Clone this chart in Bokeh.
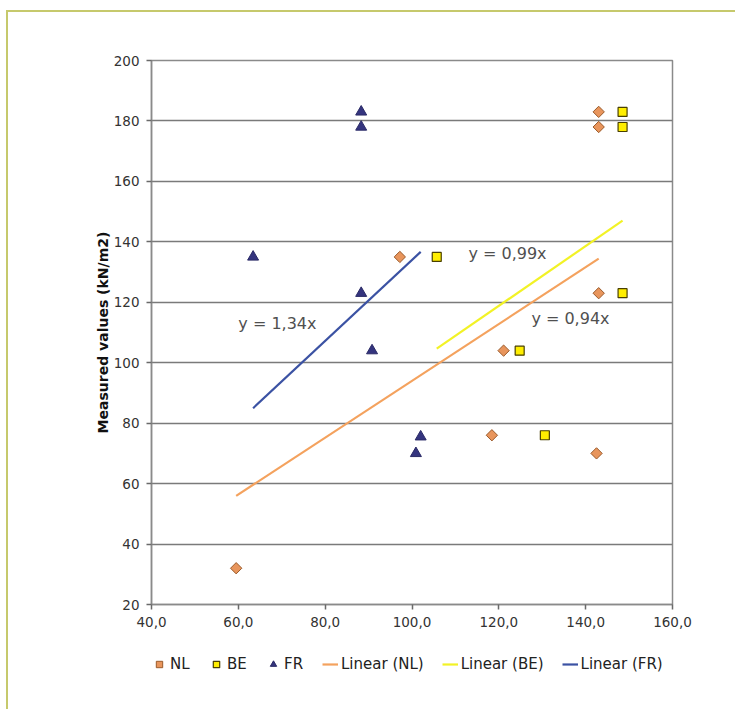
import math
from bokeh.plotting import figure
from bokeh.layouts import column
from bokeh.models import Range1d, FixedTicker, Legend, LegendItem, Label
from bokeh.embed import file_html
from bokeh.resources import INLINE

# ---------------- data ----------------
NL_X = [59.5, 97.2, 118.4, 121.1, 142.5, 143.0, 143.0, 143.0]
NL_Y = [32, 135, 76, 104, 70, 123, 178, 183]
BE_X = [105.7, 124.8, 130.6, 148.5, 148.5, 148.5]
BE_Y = [135, 104, 76, 123, 178, 183]
FR_X = [63.4, 88.3, 88.3, 88.3, 90.8, 100.9, 102.0]
FR_Y = [135, 123, 178, 183, 104, 70, 75.5]

SLOPES = {"NL": 0.94, "BE": 0.99, "FR": 1.34}
EQ_TEXT = {"NL": "y = 0,94x", "BE": "y = 0,99x", "FR": "y = 1,34x"}
EQ_POS = {"NL": (127.5, 114.5), "BE": (113.0, 136.0), "FR": (60.0, 113.0)}

X_TICKS = [40, 60, 80, 100, 120, 140, 160]
X_TICK_LABELS = ["40,0", "60,0", "80,0", "100,0", "120,0", "140,0", "160,0"]
Y_TICKS = [20, 40, 60, 80, 100, 120, 140, 160, 180, 200]

FONT = "DejaVu Sans"

p = figure(width=727, height=626, output_backend="svg", toolbar_location=None,
           x_range=Range1d(40, 160), y_range=Range1d(20, 200),
           min_border_left=143, min_border_right=63,
           min_border_top=48, min_border_bottom=34)
p.background_fill_color = "white"
p.border_fill_color = "white"
p.outline_line_color = "#8a8a8a"
p.outline_line_width = 1.5

# axes
for ax in (p.xaxis[0], p.yaxis[0]):
    ax.axis_line_color = "#8a8a8a"
    ax.axis_line_width = 1.5
    ax.major_tick_line_color = "#6a6a6a"
    ax.major_tick_line_width = 1.5
    ax.major_tick_out = 5
    ax.major_tick_in = 0
    ax.minor_tick_line_color = None
    ax.major_label_text_font = FONT
    ax.major_label_text_font_size = "13.5px"
    ax.major_label_text_color = "#333333"
    ax.major_label_standoff = 7

p.xaxis[0].ticker = FixedTicker(ticks=X_TICKS)
p.xaxis[0].major_label_overrides = {t: l for t, l in zip(X_TICKS, X_TICK_LABELS)}
yax = p.yaxis[0]
yax.ticker = FixedTicker(ticks=Y_TICKS)
yax.axis_label = "Measured values (kN/m2)"
yax.axis_label_text_font = FONT
yax.axis_label_text_font_style = "bold"
yax.axis_label_text_font_size = "14px"
yax.axis_label_text_color = "#111111"
yax.axis_label_standoff = 0

p.xgrid.grid_line_color = None
p.ygrid.ticker = FixedTicker(ticks=Y_TICKS)
p.ygrid.grid_line_color = "#7a7a7a"
p.ygrid.grid_line_width = 1.5

# trend lines (through origin, over each series' x extent)
LINE_COLORS = {"NL": "#f4a25e", "BE": "#f2f226", "FR": "#3b52a3"}
series_x = {"NL": NL_X, "BE": BE_X, "FR": FR_X}
trend = {}
for k in ("NL", "BE", "FR"):
    xs = [min(series_x[k]), max(series_x[k])]
    ys = [SLOPES[k] * v for v in xs]
    trend[k] = (xs, ys)
    p.line(xs, ys, line_color=LINE_COLORS[k], line_width=2.2)

# marker styles
NL_STYLE = dict(marker="square", angle=math.pi / 4, size=8,
                fill_color="#e8955c", line_color="#9a5a2a", line_width=1)
BE_STYLE = dict(marker="square", size=9,
                fill_color="#ffee00", line_color="#4a4000", line_width=1.2)
FR_STYLE = dict(marker="triangle", size=11,
                fill_color="#34347e", line_color="#2a2a66", line_width=1)

p.scatter(NL_X, NL_Y, **NL_STYLE)
p.scatter(BE_X, BE_Y, **BE_STYLE)
p.scatter(FR_X, FR_Y, **FR_STYLE)

# equation labels
for k in ("NL", "BE", "FR"):
    x0, y0 = EQ_POS[k]
    p.add_layout(Label(x=x0, y=y0, text=EQ_TEXT[k], text_font=FONT,
                       text_font_size="16px", text_color="#505050",
                       text_baseline="middle", text_align="left"))

# ---------------- legend strip below the chart ----------------
# same series drawn in a strip whose view range excludes them, so only
# the legend (which samples their styles) is visible
q = figure(width=727, height=71, output_backend="svg", toolbar_location=None,
           x_range=Range1d(0, 1), y_range=Range1d(0, 1),
           x_axis_type=None, y_axis_type=None, min_border=0)
q.outline_line_color = None
q.background_fill_color = "white"
q.border_fill_color = "white"
g_nl = q.scatter(NL_X, NL_Y, **NL_STYLE)
g_be = q.scatter(BE_X, BE_Y, **BE_STYLE)
g_fr = q.scatter(FR_X, FR_Y, **FR_STYLE)
l_nl = q.line(*trend["NL"], line_color=LINE_COLORS["NL"], line_width=2.2)
l_be = q.line(*trend["BE"], line_color=LINE_COLORS["BE"], line_width=2.2)
l_fr = q.line(*trend["FR"], line_color=LINE_COLORS["FR"], line_width=2.2)

legend = Legend(items=[
    LegendItem(label="NL", renderers=[g_nl]),
    LegendItem(label="BE", renderers=[g_be]),
    LegendItem(label="FR", renderers=[g_fr]),
    LegendItem(label="Linear (NL)", renderers=[l_nl]),
    LegendItem(label="Linear (BE)", renderers=[l_be]),
    LegendItem(label="Linear (FR)", renderers=[l_fr]),
], orientation="horizontal", location=(0, 36))
legend.label_text_font = FONT
legend.label_text_font_size = "15px"
legend.label_text_color = "#222222"
legend.glyph_width = 16
legend.glyph_height = 18
legend.label_height = 18
legend.label_standoff = 3
legend.spacing = 18
legend.padding = 0
legend.margin = 0
legend.border_line_alpha = 0
legend.background_fill_alpha = 0
q.add_layout(legend)

layout = column(p, q, spacing=0,
                styles={"border-top": "2px solid #c6c96c",
                        "border-left": "2px solid #c6c96c",
                        "margin-top": "10px", "margin-left": "6px"})

open("out.html", "w").write(file_html(layout, INLINE))
